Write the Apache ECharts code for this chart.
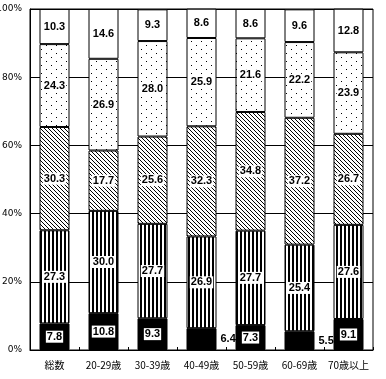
<!DOCTYPE html>
<html><head><meta charset="utf-8">
<script src="https://cdn.jsdelivr.net/npm/echarts@6/dist/echarts.min.js"></script>
<style>html,body{margin:0;padding:0;background:#fff}#c{width:386px;height:379px}</style>
</head><body><div id="c"></div>
<script>
const categories = ['総数','20-29歳','30-39歳','40-49歳','50-59歳','60-69歳','70歳以上'];
const seriesBlack = [7.8, 10.8, 9.3, 6.4, 7.3, 5.5, 9.1];
const seriesVert = [27.3, 30.0, 27.7, 26.9, 27.7, 25.4, 27.6];
const seriesDiag = [30.3, 17.7, 25.6, 32.3, 34.8, 37.2, 26.7];
const seriesDots = [24.3, 26.9, 28.0, 25.9, 21.6, 22.2, 23.9];
const seriesWhite = [10.3, 14.6, 9.3, 8.6, 8.6, 9.6, 12.8];
const yTicks = [0, 20, 40, 60, 80, 100];

function makePattern(kind){
  const c = document.createElement('canvas');
  const ctx = c.getContext('2d');
  if(kind==='vert'){
    c.width=4;c.height=4;ctx.fillStyle='#fff';ctx.fillRect(0,0,4,4);
    ctx.fillStyle='#000';ctx.fillRect(0,0,2,4);
  } else if(kind==='diag'){
    c.width=4;c.height=4;ctx.fillStyle='#fff';ctx.fillRect(0,0,4,4);
    ctx.fillStyle='#000';
    for(let i=0;i<4;i++){ctx.fillRect(i,i,1,1);}
  } else if(kind==='dots'){
    c.width=10;c.height=8;ctx.fillStyle='#fff';ctx.fillRect(0,0,10,8);
    ctx.fillStyle='#000';ctx.fillRect(1,1,1,1);ctx.fillRect(6,5,1,1);
  }
  return {image:c, repeat:'repeat'};
}

const lbl = {show:true, position:'inside', color:'#000', fontWeight:'bold', fontSize:11,
  fontFamily:'Liberation Sans', backgroundColor:'#fff', padding:[1,1,0,1], formatter:p=>p.value.toFixed(1)};
const border = {borderColor:'#000', borderWidth:1};

function mk(name, arr, color, extra, z){
  return {name, type:'bar', stack:'s', barWidth:30, z:z, data:arr.map(v=>{
      const d={value:v};
      if(extra && v<7){ d.label={position:'right', distance:3, backgroundColor:'transparent'}; }
      return d;
    }),
    itemStyle:Object.assign({color}, border), label:lbl, emphasis:{disabled:true}, animation:false};
}

const chart = echarts.init(document.getElementById('c'), null, {renderer:'canvas'});
chart.setOption({
  animation:false,
  grid:{left:30, right:13, top:9, bottom:29, containLabel:false, outerBoundsMode:'none',
    show:true, borderColor:'#000', borderWidth:1, backgroundColor:'transparent'},
  xAxis:{type:'category', data:categories,
    axisLine:{lineStyle:{color:'#000', width:1}},
    axisTick:{show:true, inside:true, length:3, lineStyle:{color:'#000'}},
    axisLabel:{color:'#000', fontSize:10, margin:10, interval:0, fontFamily:'Noto Sans CJK JP'}},
  yAxis:{type:'value', min:0, max:100, interval:20,
    axisLine:{show:true, lineStyle:{color:'#000'}},
    axisTick:{show:false},
    splitLine:{lineStyle:{color:'#000', width:1}},
    axisLabel:{color:'#000', fontSize:9, margin:8, fontFamily:'DejaVu Sans', formatter:v=>yTicks.includes(v)?v+'%':''}},
  series:[
    mk('black', seriesBlack, '#000', true, 6),
    mk('vert', seriesVert, makePattern('vert'), false, 2),
    mk('diag', seriesDiag, makePattern('diag'), false, 2),
    mk('dots', seriesDots, makePattern('dots'), false, 2),
    mk('white', seriesWhite, '#fff', false, 2)
  ]
});
</script></body></html>
